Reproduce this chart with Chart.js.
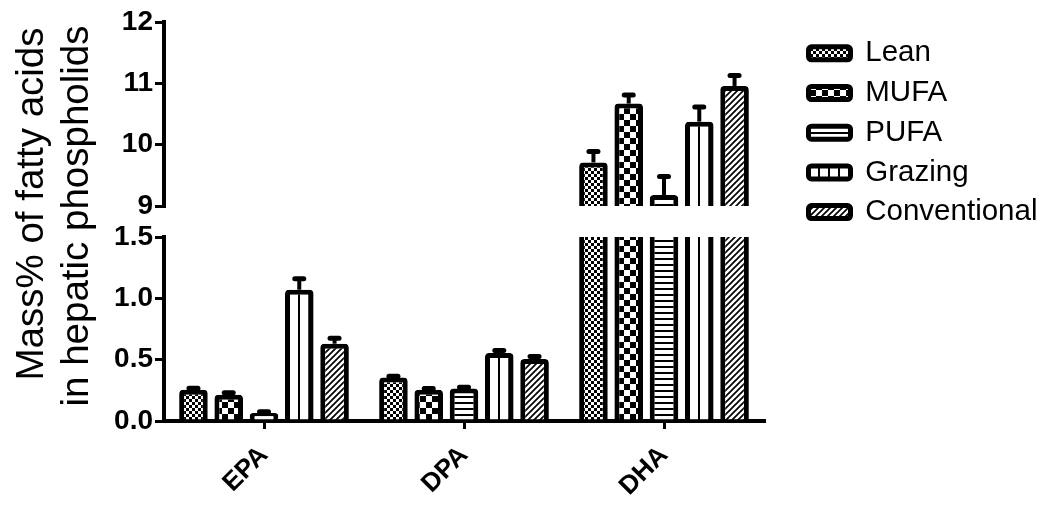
<!DOCTYPE html>
<html>
<head>
<meta charset="utf-8">
<script src="https://cdn.jsdelivr.net/npm/chart.js@4/dist/chart.umd.min.js"></script>
<style>
  html, body { margin: 0; padding: 0; background: #fff; }
  canvas { display: block; }
</style>
</head>
<body>
<canvas id="c" width="1062" height="505"></canvas>
<script>
// Fatty acid classes on the x axis
const categories = ['EPA', 'DPA', 'DHA'];

// Diet groups (mean and SEM per fatty acid: EPA, DPA, DHA)
const seriesNames = ['Lean', 'MUFA', 'PUFA', 'Grazing', 'Conventional'];
const leanMean = [0.255, 0.355, 9.71];
const leanSem = [0.013, 0.01, 0.18];
const mufaMean = [0.215, 0.255, 10.67];
const mufaSem = [0.015, 0.01, 0.14];
const pufaMean = [0.065, 0.265, 9.18];
const pufaSem = [0.01, 0.01, 0.30];
const grazingMean = [1.07, 0.555, 10.375];
const grazingSem = [0.09, 0.02, 0.24];
const conventionalMean = [0.63, 0.505, 10.957];
const conventionalSem = [0.045, 0.02, 0.17];

// Broken value axis: upper and lower segments
const upperTicks = [9, 10, 11, 12];
const upperTickLabels = ['9', '10', '11', '12'];
const lowerTicks = [0, 0.5, 1.0, 1.5];
const lowerTickLabels = ['0.0', '0.5', '1.0', '1.5'];

const yTitleLines = ['Mass% of fatty acids', 'in hepatic phospholids'];

const FONT = '"Liberation Sans", Arial, Helvetica, sans-serif';
Chart.defaults.font.family = FONT;
Chart.defaults.color = '#000';

const canvas = document.getElementById('c');
const mainCtx = canvas.getContext('2d');

// ---- fill patterns -------------------------------------------------------
function makePattern(w, h, paint) {
  const t = document.createElement('canvas');
  t.width = w; t.height = h;
  const g = t.getContext('2d');
  g.fillStyle = '#fff';
  g.fillRect(0, 0, w, h);
  g.fillStyle = '#000';
  g.strokeStyle = '#000';
  paint(g, w, h);
  return mainCtx.createPattern(t, 'repeat');
}
const fineCheck = makePattern(6, 6, g => { g.fillRect(0, 0, 3, 3); g.fillRect(3, 3, 3, 3); });
const coarseCheck = makePattern(12, 12, g => { g.fillRect(0, 0, 6, 6); g.fillRect(6, 6, 6, 6); });
const hLines = makePattern(6, 6, g => { g.fillRect(0, 0, 6, 2); });
const vLines = makePattern(10, 10, g => { g.fillRect(0, 0, 2, 10); });
const diagLines = makePattern(6, 6, g => {
  g.lineWidth = 1.7;
  g.beginPath();
  g.moveTo(-1, 7); g.lineTo(7, -1);
  g.moveTo(-1, 1); g.lineTo(1, -1);
  g.moveTo(5, 7); g.lineTo(7, 5);
  g.stroke();
});

const fills = [fineCheck, coarseCheck, hLines, vLines, diagLines];
const means = [leanMean, mufaMean, pufaMean, grazingMean, conventionalMean];
const sems = [leanSem, mufaSem, pufaSem, grazingSem, conventionalSem];

// Each group is drawn twice: once against the upper segment, once against the lower one.
const datasets = [];
['yTop', 'yBot'].forEach((axisId, seg) => {
  seriesNames.forEach((name, k) => {
    datasets.push({
      label: name,
      data: means[k],
      errors: sems[k],
      yAxisID: axisId,
      stack: name,
      segment: seg,
      backgroundColor: fills[k],
      borderColor: '#000',
      borderWidth: 5,
      borderRadius: 4,
      borderSkipped: 'start',
      categoryPercentage: 0.882,
      barPercentage: 0.81
    });
  });
});

// ---- legend geometry -----------------------------------------------------
const LEGEND_FONT = 29.5;
const LEGEND_PAD = 10.2;
const LEGEND_BOX_W = 42;
const LEGEND_BOX_H = 13;
mainCtx.font = LEGEND_FONT + 'px ' + FONT;
const widestLabel = Math.max(...seriesNames.map(s => mainCtx.measureText(s).width));
const legendWidth = LEGEND_PAD + LEGEND_BOX_W + LEGEND_FONT / 2 + widestLabel + 10;
const legendLeft = 808.5 - LEGEND_PAD;
const padRight = Math.max(0, 1062 - legendLeft - legendWidth);
const PLOT_RIGHT = 764;

// ---- plugins -------------------------------------------------------------
// keep each dataset inside its own axis segment
const segmentClip = {
  id: 'segmentClip',
  beforeDatasetDraw(chart, args) {
    const ys = chart.scales[args.meta.yAxisID];
    const a = chart.chartArea;
    const ctx = chart.ctx;
    ctx.save();
    ctx.beginPath();
    ctx.rect(a.left - 10, ys.top, a.right - a.left + 20, ys.bottom - ys.top);
    ctx.clip();
  },
  afterDatasetDraw(chart) {
    chart.ctx.restore();
  }
};

// SEM whiskers (upper side only) with a rounded cap
const errorBars = {
  id: 'errorBars',
  afterDatasetsDraw(chart) {
    const ctx = chart.ctx;
    chart.data.datasets.forEach((ds, i) => {
      const meta = chart.getDatasetMeta(i);
      const ys = chart.scales[meta.yAxisID];
      ds.data.forEach((v, j) => {
        if (v < ys.min || v > ys.max) return;
        const bar = meta.data[j];
        const yv = ys.getPixelForValue(v);
        const ye = ys.getPixelForValue(v + ds.errors[j]);
        ctx.save();
        ctx.strokeStyle = '#000';
        ctx.lineWidth = 4;
        ctx.lineCap = 'butt';
        ctx.beginPath();
        ctx.moveTo(bar.x, yv);
        ctx.lineTo(bar.x, ye);
        ctx.stroke();
        ctx.lineWidth = 5;
        ctx.lineCap = 'round';
        ctx.beginPath();
        ctx.moveTo(bar.x - 4.5, ye);
        ctx.lineTo(bar.x + 4.5, ye);
        ctx.stroke();
        ctx.restore();
      });
    });
  }
};

// line up the vertical hatching with the bar centres
const hatchAlign = {
  id: 'hatchAlign',
  beforeDraw(chart) {
    const meta = chart.getDatasetMeta(3);
    if (meta && meta.data && meta.data[0]) {
      const x0 = Math.round(meta.data[0].x) - 1;
      vLines.setTransform(new DOMMatrix([1, 0, 0, 1, x0, 0]));
    }
  }
};

// two-line value-axis title
const yTitle = {
  id: 'yTitle',
  afterDraw(chart) {
    const ctx = chart.ctx;
    ctx.save();
    ctx.fillStyle = '#000';
    ctx.font = '38.5px ' + FONT;
    ctx.textAlign = 'center';
    ctx.textBaseline = 'alphabetic';
    const baselines = [43, 88];
    const centres = [204, 216];
    yTitleLines.forEach((line, i) => {
      ctx.save();
      ctx.translate(baselines[i], centres[i]);
      ctx.rotate(-Math.PI / 2);
      ctx.fillText(line, 0, 0);
      ctx.restore();
    });
    ctx.restore();
  }
};

// ---- axes ----------------------------------------------------------------
const valueGrid = {
  display: true, drawOnChartArea: false, drawTicks: true,
  tickLength: 9, tickWidth: 3, lineWidth: 3, color: '#000', tickColor: '#000'
};
const valueBorder = { display: true, color: '#000', width: 4 };
const valueTickFont = { size: 28, weight: 'bold' };

new Chart(canvas, {
  type: 'bar',
  data: { labels: categories, datasets },
  options: {
    responsive: false,
    devicePixelRatio: 1,
    animation: false,
    events: [],
    layout: { padding: { top: 22, left: 0, bottom: 0, right: padRight } },
    scales: {
      x: {
        type: 'category',
        position: 'bottom',
        offset: true,
        grid: { display: true, drawOnChartArea: false, drawTicks: true, offset: false,
                tickLength: 8, tickWidth: 3, lineWidth: 3, color: '#000', tickColor: '#000' },
        border: { display: true, color: '#000', width: 4 },
        ticks: { autoSkip: false, minRotation: 45, maxRotation: 45, padding: 11,
                 font: { size: 26, weight: 'bold' }, color: '#000' },
        afterFit(s) { s.height = 84; }
      },
      yTop: {
        type: 'linear', position: 'left', stack: 'v', stackWeight: 184, weight: 3,
        stacked: false, min: 9, max: 12,
        grid: valueGrid, border: valueBorder,
        ticks: { padding: 2, font: valueTickFont, color: '#000',
                 callback: (v, i) => upperTickLabels[i] },
        afterBuildTicks(s) { s.ticks = upperTicks.map(v => ({ value: v })); },
        afterFit(s) { s.width = 164; }
      },
      yGap: {
        type: 'linear', position: 'left', stack: 'v', stackWeight: 31, weight: 2,
        min: 0, max: 1,
        grid: { display: false }, border: { display: false }, ticks: { display: false },
        afterFit(s) { s.width = 164; }
      },
      yBot: {
        type: 'linear', position: 'left', stack: 'v', stackWeight: 184, weight: 1,
        stacked: false, min: 0, max: 1.5,
        grid: valueGrid, border: valueBorder,
        ticks: { padding: 2, font: valueTickFont, color: '#000',
                 callback: (v, i) => lowerTickLabels[i] },
        afterBuildTicks(s) { s.ticks = lowerTicks.map(v => ({ value: v })); },
        afterFit(s) { s.width = 164; }
      },
      yRightSpace: {
        type: 'linear', position: 'right', min: 0, max: 1,
        grid: { display: false }, border: { display: false }, ticks: { display: false },
        afterFit(s) { s.width = legendLeft - PLOT_RIGHT; }
      }
    },
    plugins: {
      tooltip: { enabled: false },
      legend: {
        display: true,
        position: 'right',
        align: 'start',
        maxWidth: 600,
        title: { display: true, text: ' ', font: { size: 1, lineHeight: 1 }, padding: { top: 0, bottom: 5.35 } },
        labels: {
          filter: item => item.datasetIndex < seriesNames.length,
          boxWidth: LEGEND_BOX_W,
          boxHeight: LEGEND_BOX_H,
          padding: LEGEND_PAD,
          useBorderRadius: true,
          borderRadius: 3,
          color: '#000',
          font: { size: LEGEND_FONT }
        }
      }
    }
  },
  plugins: [hatchAlign, segmentClip, errorBars, yTitle]
});
</script>
</body>
</html>
